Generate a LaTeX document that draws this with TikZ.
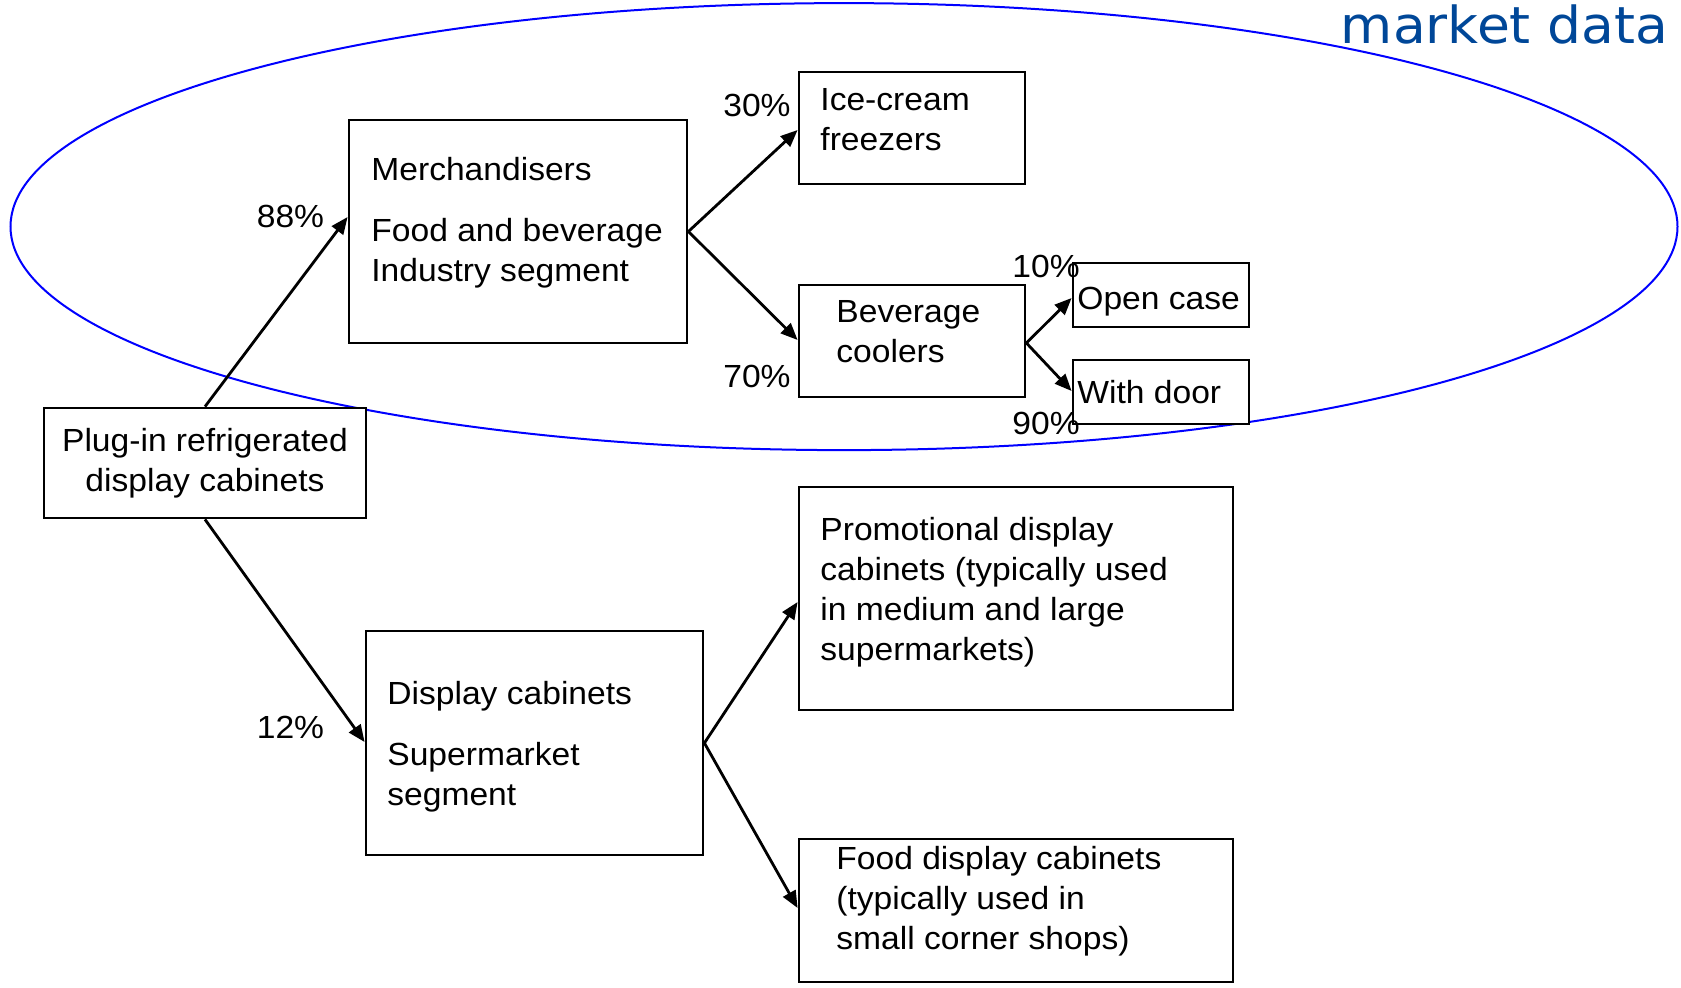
\documentclass[tikz,border=0pt]{standalone}
\usepackage{fontspec}
\setmainfont[FakeStretch=1.05]{Liberation Sans}
\newfontfamily\titlefont[FakeStretch=1.05]{DejaVu Sans}
\usetikzlibrary{arrows.meta}
\definecolor{titleblue}{RGB}{0,71,152}
\begin{document}
\begin{tikzpicture}[x=0.5pt,y=-0.5pt,
  box/.style={draw=black,line width=1.4pt,fill=white,inner sep=0pt},
  txt/.style={inner sep=0pt,align=left,anchor=north west,font=\fontsize{16}{20}\selectfont},
  pct/.style={inner sep=0pt,anchor=base,font=\fontsize{16}{20}\selectfont},
  link/.style={line width=1.4pt,-{Triangle[length=8.5pt,width=7pt]}}]
\useasboundingbox (0,0) rectangle (1681,987);

% segment boundary
\draw[blue,line width=1pt] (844,226.6) ellipse [x radius=416.75pt, y radius=111.75pt];

\node[inner sep=0pt,anchor=base east,text=titleblue,font=\titlefont\fontsize{25.5}{30}\selectfont] (title) at (1669,43) {market data};

% boxes
\node[box,minimum width=161pt,minimum height=55pt] (plug) at (205,463) {};
\node[box,minimum width=169pt,minimum height=111.5pt] (merch) at (518,231.5) {};
\node[box,minimum width=113pt,minimum height=56pt] (ice) at (912,128) {};
\node[box,minimum width=113pt,minimum height=56pt] (bev) at (912,341) {};
\node[box,minimum width=88pt,minimum height=32pt] (open) at (1161,295) {};
\node[box,minimum width=88pt,minimum height=32pt] (door) at (1161,392) {};
\node[box,minimum width=217pt,minimum height=111.5pt] (promo) at (1016,598.5) {};
\node[box,minimum width=168.5pt,minimum height=112pt] (disp) at (534.5,743) {};
\node[box,minimum width=217pt,minimum height=71.5pt] (food) at (1016,910.5) {};

% box texts
\node[txt,align=center,anchor=north] (plug-t) at (205,423.5) {\strut Plug-in refrigerated\\display cabinets};
\node[txt] (merch-t) at (371,152.5) {\strut Merchandisers\\[10.5pt]Food and beverage\\Industry segment};
\node[txt] (ice-t) at (820,82.5) {\strut Ice-cream\\freezers};
\node[txt] (bev-t) at (836,294.5) {\strut Beverage\\coolers};
\node[txt] (open-t) at (1077,281) {\strut Open case};
\node[txt] (door-t) at (1077,375.5) {\strut With door};
\node[txt] (promo-t) at (820,512.5) {\strut Promotional display\\cabinets (typically used\\in medium and large\\supermarkets)};
\node[txt] (disp-t) at (387,676.5) {\strut Display cabinets\\[10.5pt]Supermarket\\segment};
\node[txt] (food-t) at (836,841.5) {\strut Food display cabinets\\(typically used in\\small corner shops)};

% shares
\node[pct] (p88) at (290.5,227) {88\%};
\node[pct] (p12) at (290.5,738.5) {12\%};
\node[pct] (p30) at (757,116.5) {30\%};
\node[pct] (p70) at (757,387) {70\%};
\node[pct] (p10) at (1046,277) {10\%};
\node[pct] (p90) at (1046,434) {90\%};

% connectors
\draw[link] (plug.north) -- (merch.west |- 0,217);
\draw[link] (plug.south) -- (disp.west |- 0,742);
\draw[link] (merch.east) -- (ice.west |- 0,130);
\draw[link] (merch.east) -- (bev.west |- 0,340);
\draw[link] (bev.east |- 0,343) -- (open.west |- 0,298);
\draw[link] (bev.east |- 0,343) -- (door.west |- 0,391);
\draw[link] (disp.east) -- (promo.west |- 0,602);
\draw[link] (disp.east) -- (food.west |- 0,908);
\end{tikzpicture}
\end{document}
